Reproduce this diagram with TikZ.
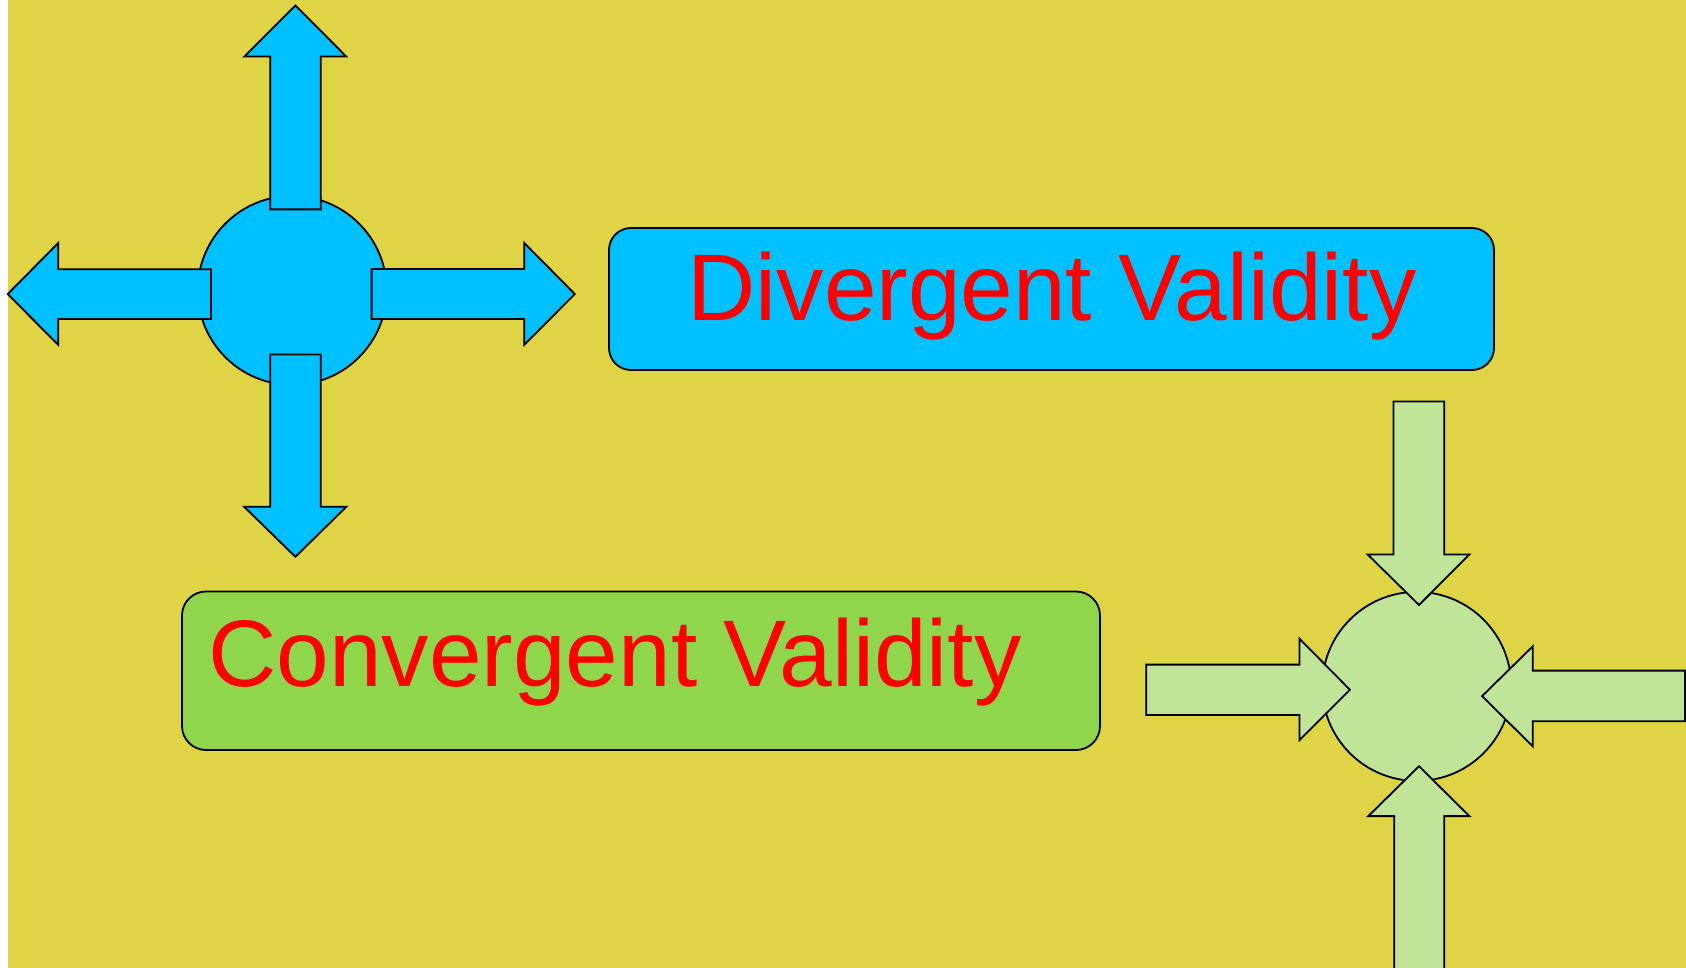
\documentclass[tikz,border=0pt]{standalone}
\usepackage{fontspec}
\setmainfont{Liberation Sans}
\definecolor{bgyellow}{RGB}{222,212,70}
\definecolor{skyblue}{RGB}{0,192,255}
\definecolor{boxgreen}{RGB}{144,214,76}
\definecolor{palegreen}{RGB}{192,228,152}
\definecolor{textred}{RGB}{255,0,0}
\tikzset{
  shapeline/.style={draw=black, line width=0.9pt, line join=miter},
  bluefill/.style={shapeline, fill=skyblue},
  greenfill/.style={shapeline, fill=palegreen},
  hub/.style={circle, minimum size=94.5pt, inner sep=0pt},
  labelbox/.style={shapeline, rounded corners=11pt},
  labeltext/.style={text=textred, inner sep=0pt, font=\fontsize{47.3}{56}\selectfont}
}
\begin{document}
\begin{tikzpicture}[x=0.5pt,y=-0.5pt]
\useasboundingbox (0,0) rectangle (1686,968);
\clip (0,0) rectangle (1686,968);
\fill[white] (0,0) rectangle (1686,968);
\fill[bgyellow] (8,0) rectangle (1686,968);

% ---- divergent hub ----
\node[hub, bluefill] (dhub) at (292.2,290.4) {};
\draw[bluefill] (270.2,209.4) -- (270.2,56.6) -- (244.2,56.6) -- (295.4,5.5) -- (346.3,56.6) -- (320.7,56.6) -- (320.7,209.4) -- cycle;
\draw[bluefill] (210.9,269.3) -- (58.2,269.3) -- (58.2,243) -- (7.7,294.1) -- (58.2,344.8) -- (58.2,318.9) -- (210.9,318.9) -- cycle;
\draw[bluefill] (371.6,269) -- (524.3,269) -- (524.3,243) -- (574.8,294.1) -- (524.3,344.8) -- (524.3,318.9) -- (371.6,318.9) -- cycle;
\draw[bluefill] (270.2,354.4) -- (320.7,354.4) -- (320.7,506.8) -- (346.3,506.8) -- (295.4,556.8) -- (244.2,506.8) -- (270.2,506.8) -- cycle;

% ---- label boxes ----
\draw[labelbox, fill=skyblue] (609,228) rectangle (1494,370);
\node[labeltext, anchor=base west] (dtext) at (687,320.4) {Divergent Validity};
\draw[labelbox, fill=boxgreen, rounded corners=12pt] (182,591.5) rectangle (1100,750);
\node[labeltext, anchor=base west] (ctext) at (208,686) {Convergent Validity};

% ---- convergent hub ----
\node[hub, greenfill] (chub) at (1416.7,686.4) {};
\draw[greenfill] (1393.5,401.4) -- (1444.2,401.4) -- (1444.2,554.4) -- (1469.4,554.4) -- (1419,605) -- (1367.6,554.4) -- (1393.5,554.4) -- cycle;
\draw[greenfill] (1146.3,664.6) -- (1299.5,664.6) -- (1299.5,638.75) -- (1349.9,689.75) -- (1299.5,740) -- (1299.5,714.9) -- (1146.3,714.9) -- cycle;
\draw[greenfill] (1685,670.6) -- (1532.8,670.6) -- (1532.8,646.25) -- (1482.1,696.1) -- (1532.8,746.4) -- (1532.8,721.25) -- (1685,721.25) -- cycle;
\draw[greenfill] (1394.2,980) -- (1394.2,816.1) -- (1368.3,816.1) -- (1419,766.25) -- (1469.4,816.1) -- (1444.2,816.1) -- (1444.2,980) -- cycle;
\end{tikzpicture}
\end{document}
